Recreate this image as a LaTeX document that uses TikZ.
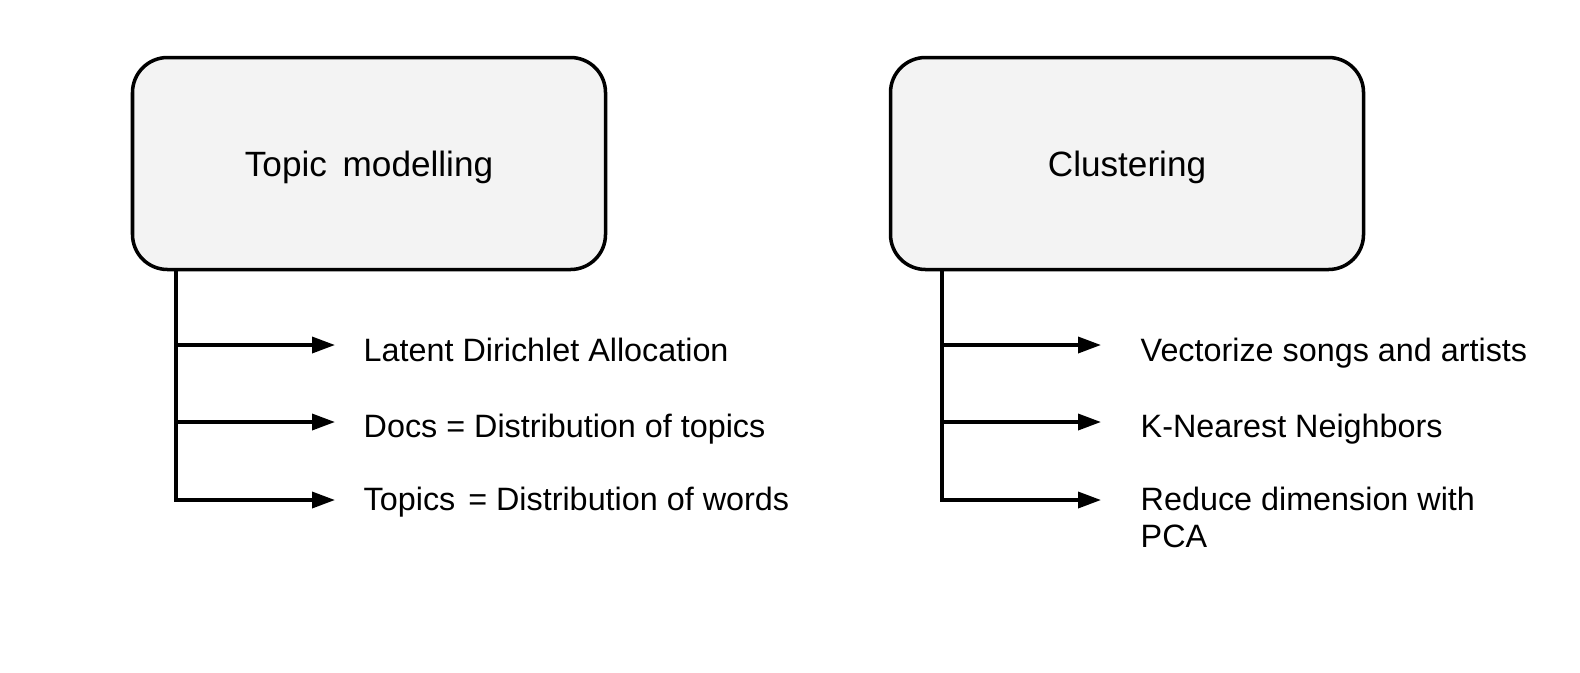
\documentclass[tikz,border=0pt]{standalone}
\usepackage{fontspec}
\setmainfont{Liberation Sans}
\usetikzlibrary{arrows.meta,positioning}
\definecolor{boxfill}{HTML}{F3F3F3}
\tikzset{
  blocco/.style={draw, line width=1pt, rounded corners=0.35cm, fill=boxfill,
    minimum width=4.73cm, minimum height=2.12cm, text depth=0pt,
    font=\fontsize{10}{12}\selectfont},
  voce/.style={anchor=base west, inner sep=0pt, align=left,
    font=\fontsize{9.2}{10.5}\selectfont},
  freccia/.style={-{Triangle[length=2.3mm,width=1.6mm]}, line width=1pt},
}
\begin{document}
\begin{tikzpicture}
    \useasboundingbox (0,0) rectangle (15.8,-6.72);
    % Blocchi
    \node[blocco] (topic) at (3.69,-1.635) {Topic\hspace{0.45em}modelling};
    \node[blocco] (clust) at (11.27,-1.635) {Clustering};

    % Punti dei rami
    \coordinate (tr1) at (1.76,-3.45);   \coordinate (tt1) at (3.35,-3.45);
    \coordinate (tr2) at (1.76,-4.22);   \coordinate (tt2) at (3.35,-4.22);
    \coordinate (tr3) at (1.76,-5.00);   \coordinate (tt3) at (3.35,-5.00);
    \coordinate (cr1) at (9.42,-3.45);   \coordinate (ct1) at (11.01,-3.45);
    \coordinate (cr2) at (9.42,-4.22);   \coordinate (ct2) at (11.01,-4.22);
    \coordinate (cr3) at (9.42,-5.00);   \coordinate (ct3) at (11.01,-5.00);

    % Voci
    \node[voce] (lda) at (3.63,-3.61) {Latent Dirichlet Allocation};
    \node[voce] (docs) at (3.63,-4.37) {Docs = Distribution of topics};
    \node[voce] (words) at (3.63,-5.10) {Topics\hspace{0.4em}= Distribution of words};
    \node[voce] (vect) at (11.40,-3.61) {Vectorize songs and artists};
    \node[voce] (knn) at (11.40,-4.37) {K-Nearest Neighbors};
    \node[voce] (pca) at (11.40,-5.47) {Reduce dimension with\\PCA};

    % Frecce
    \draw[freccia] (topic.south -| tr3) |- (tt3);
    \draw[freccia] (tr1) -- (tt1);
    \draw[freccia] (tr2) -- (tt2);
    \draw[freccia] (clust.south -| cr3) |- (ct3);
    \draw[freccia] (cr1) -- (ct1);
    \draw[freccia] (cr2) -- (ct2);
\end{tikzpicture}
\end{document}
